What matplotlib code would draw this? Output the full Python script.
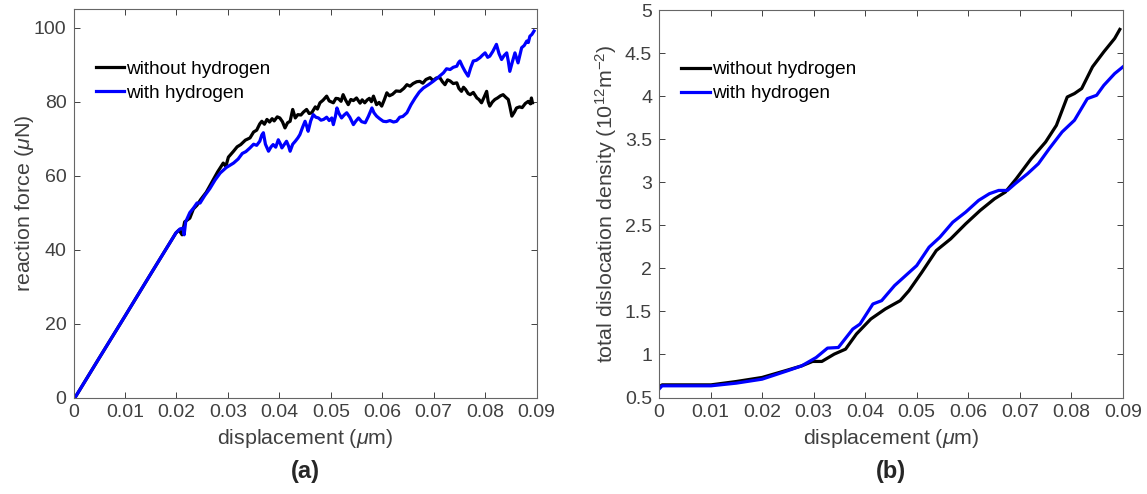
import matplotlib
matplotlib.use('Agg')
import matplotlib.pyplot as plt

plt.rcParams['font.family'] = ['Liberation Sans', 'DejaVu Sans']
plt.rcParams['mathtext.fontset'] = 'custom'
plt.rcParams['mathtext.rm'] = 'Liberation Sans'
plt.rcParams['mathtext.it'] = 'Liberation Sans:italic'

# (a) reaction force, without hydrogen
force_x_noH = [0.0003, 0.0050, 0.0100, 0.0150, 0.0199, 0.0205, 0.0211, 0.0216, 0.0226, 0.0233,
               0.0240, 0.0247, 0.0258, 0.0270, 0.0280, 0.0291, 0.0296, 0.0301, 0.0311, 0.0318,
               0.0325, 0.0334, 0.0343, 0.0350, 0.0356, 0.0362, 0.0366, 0.0371, 0.0376, 0.0381,
               0.0386, 0.0390, 0.0396, 0.0401, 0.0406, 0.0411, 0.0416, 0.0421, 0.0426, 0.0431,
               0.0436, 0.0442, 0.0447, 0.0453, 0.0458, 0.0463, 0.0470, 0.0474, 0.0479, 0.0485,
               0.0492, 0.0497, 0.0505, 0.0510, 0.0515, 0.0520, 0.0524, 0.0529, 0.0534, 0.0539,
               0.0544, 0.0550, 0.0557, 0.0561, 0.0566, 0.0571, 0.0575, 0.0579, 0.0583, 0.0589,
               0.0594, 0.0599, 0.0604, 0.0609, 0.0614, 0.0620, 0.0627, 0.0635, 0.0642, 0.0648,
               0.0654, 0.0660, 0.0667, 0.0673, 0.0679, 0.0685, 0.0693, 0.0699, 0.0705, 0.0712,
               0.0717, 0.0722, 0.0727, 0.0732, 0.0738, 0.0745, 0.0749, 0.0754, 0.0758, 0.0762,
               0.0767, 0.0771, 0.0777, 0.0784, 0.0788, 0.0793, 0.0798, 0.0803, 0.0806, 0.0809,
               0.0814, 0.0819, 0.0824, 0.0830, 0.0835, 0.0840, 0.0845, 0.0848, 0.0852, 0.0857,
               0.0861, 0.0867, 0.0872, 0.0878, 0.0884, 0.0888, 0.0890, 0.0892]
force_y_noH = [0.0, 10.7, 22.0, 33.4, 44.5, 45.3, 44.0, 47.5, 48.5, 51.0,
               52.0, 53.5, 55.5, 58.5, 61.0, 63.4, 62.5, 65.0, 66.6, 67.8,
               68.4, 69.6, 70.2, 71.8, 72.3, 74.0, 74.7, 73.9, 75.2, 74.5,
               75.4, 74.8, 75.9, 75.6, 74.6, 72.9, 74.3, 74.7, 77.9, 75.6,
               76.5, 76.4, 77.2, 77.9, 76.8, 77.0, 78.6, 78.0, 79.7, 80.4,
               81.5, 80.2, 79.7, 80.9, 80.8, 80.1, 81.9, 80.4, 79.2, 80.6,
               80.3, 81.0, 79.6, 80.5, 79.7, 80.5, 80.9, 80.0, 81.5, 79.2,
               79.8, 78.8, 80.5, 82.4, 81.6, 82.0, 82.9, 82.8, 83.6, 84.6,
               84.2, 84.9, 85.4, 85.5, 85.0, 86.0, 86.5, 85.7, 86.4, 86.5,
               85.4, 84.6, 85.9, 85.6, 84.9, 85.1, 83.6, 82.8, 83.9, 83.3,
               82.2, 81.9, 82.5, 81.0, 80.6, 79.7, 81.2, 82.8, 80.0, 78.8,
               79.9, 80.6, 81.0, 81.6, 81.9, 81.2, 80.6, 78.8, 76.1, 77.2,
               78.3, 78.6, 78.4, 79.5, 80.1, 79.4, 81.0, 79.7]

# (a) reaction force, with hydrogen
force_x_H = [0.0003, 0.0050, 0.0100, 0.0150, 0.0199, 0.0207, 0.0213, 0.0215, 0.0218, 0.0226,
             0.0233, 0.0240, 0.0246, 0.0255, 0.0265, 0.0275, 0.0285, 0.0297, 0.0311, 0.0320,
             0.0328, 0.0335, 0.0343, 0.0350, 0.0356, 0.0362, 0.0366, 0.0369, 0.0373, 0.0379,
             0.0384, 0.0388, 0.0393, 0.0398, 0.0402, 0.0405, 0.0410, 0.0414, 0.0418, 0.0421,
             0.0426, 0.0431, 0.0436, 0.0440, 0.0445, 0.0450, 0.0453, 0.0456, 0.0461, 0.0466,
             0.0471, 0.0476, 0.0481, 0.0486, 0.0492, 0.0497, 0.0502, 0.0505, 0.0509, 0.0512,
             0.0516, 0.0521, 0.0526, 0.0531, 0.0537, 0.0544, 0.0549, 0.0554, 0.0560, 0.0567,
             0.0573, 0.0580, 0.0584, 0.0589, 0.0595, 0.0602, 0.0608, 0.0615, 0.0622, 0.0628,
             0.0634, 0.0640, 0.0648, 0.0656, 0.0664, 0.0672, 0.0680, 0.0690, 0.0699, 0.0708,
             0.0719, 0.0725, 0.0732, 0.0738, 0.0745, 0.0748, 0.0751, 0.0756, 0.0761, 0.0767,
             0.0772, 0.0777, 0.0783, 0.0790, 0.0795, 0.0800, 0.0805, 0.0809, 0.0815, 0.0822,
             0.0827, 0.0832, 0.0837, 0.0842, 0.0845, 0.0848, 0.0853, 0.0858, 0.0861, 0.0864,
             0.0868, 0.0871, 0.0876, 0.0881, 0.0884, 0.0887, 0.0891, 0.0895]
force_y_H = [0.0, 10.7, 22.0, 33.4, 44.5, 45.6, 45.8, 44.0, 47.5, 50.0,
             51.2, 52.6, 52.6, 54.6, 56.5, 58.8, 60.7, 62.2, 63.4, 64.5,
             66.0, 66.5, 67.5, 68.5, 68.2, 69.3, 71.0, 71.6, 68.5, 66.6,
             67.8, 68.4, 67.7, 69.7, 68.6, 67.5, 68.5, 69.3, 68.0, 66.6,
             68.5, 69.3, 70.2, 71.1, 73.0, 74.7, 73.5, 72.0, 74.8, 76.5,
             75.8, 75.6, 75.0, 75.2, 75.8, 74.9, 75.6, 73.8, 76.0, 78.3,
             76.8, 75.6, 76.4, 77.0, 75.8, 73.8, 74.8, 75.6, 74.6, 74.3,
             76.0, 78.3, 77.0, 76.1, 75.4, 74.7, 74.6, 74.9, 74.5, 74.7,
             75.8, 76.0, 77.0, 79.2, 81.0, 82.6, 83.7, 84.6, 85.5, 86.5,
             87.8, 88.9, 88.7, 89.3, 89.6, 90.5, 91.0, 89.5, 88.2, 86.9,
             89.2, 91.0, 91.2, 91.9, 92.6, 93.2, 92.0, 92.3, 93.6, 95.5,
             93.0, 91.4, 92.5, 93.2, 91.0, 88.2, 90.8, 93.2, 91.8, 90.5,
             92.8, 94.6, 95.2, 96.4, 96.0, 97.7, 98.2, 99.1]

# (b) total dislocation density
dens_x_noH = [0.0, 0.0006, 0.0050, 0.0101, 0.0150, 0.0200, 0.0249, 0.0277, 0.0298, 0.0316,
              0.0340, 0.0362, 0.0383, 0.0411, 0.0439, 0.0468, 0.0485, 0.0510, 0.0538, 0.0566,
              0.0595, 0.0623, 0.0651, 0.0672, 0.0693, 0.0722, 0.0750, 0.0771, 0.0792, 0.0806,
              0.0820, 0.0841, 0.0863, 0.0884, 0.0894]
dens_y_noH = [0.616, 0.647, 0.647, 0.647, 0.686, 0.733, 0.818, 0.868, 0.919, 0.919,
              1.004, 1.062, 1.237, 1.412, 1.528, 1.625, 1.741, 1.955, 2.207, 2.343,
              2.517, 2.672, 2.808, 2.886, 3.040, 3.273, 3.467, 3.661, 3.990, 4.030,
              4.088, 4.340, 4.515, 4.670, 4.775]

dens_x_H = [0.0, 0.0006, 0.0050, 0.0101, 0.0150, 0.0200, 0.0249, 0.0277, 0.0305, 0.0327,
            0.0348, 0.0376, 0.0390, 0.0415, 0.0432, 0.0457, 0.0482, 0.0500, 0.0524, 0.0545,
            0.0570, 0.0595, 0.0620, 0.0641, 0.0659, 0.0676, 0.0691, 0.0715, 0.0736, 0.0757,
            0.0782, 0.0806, 0.0831, 0.0849, 0.0863, 0.0884, 0.0900]
dens_y_H = [0.597, 0.636, 0.636, 0.636, 0.667, 0.713, 0.810, 0.868, 0.965, 1.074,
            1.081, 1.295, 1.353, 1.586, 1.625, 1.800, 1.935, 2.032, 2.246, 2.362,
            2.536, 2.653, 2.789, 2.867, 2.905, 2.905, 2.983, 3.099, 3.215, 3.389,
            3.584, 3.720, 3.971, 4.010, 4.126, 4.262, 4.340]

x_ticks = [0, 0.01, 0.02, 0.03, 0.04, 0.05, 0.06, 0.07, 0.08, 0.09]
x_tick_labels = ['0', '0.01', '0.02', '0.03', '0.04', '0.05', '0.06', '0.07', '0.08', '0.09']
force_ticks = [0, 20, 40, 60, 80, 100]
dens_ticks = [0.5, 1, 1.5, 2, 2.5, 3, 3.5, 4, 4.5, 5]
dens_tick_labels = ['0.5', '1', '1.5', '2', '2.5', '3', '3.5', '4', '4.5', '5']

grey = '#404040'
blue = '#0000ff'

fig = plt.figure(figsize=(11.47, 4.94), dpi=100)
ax1 = fig.add_axes([0.0641, 0.1953, 0.4037, 0.786])
ax2 = fig.add_axes([0.5745, 0.1953, 0.4045, 0.7844])


def style(ax):
    ax.tick_params(direction='in', top=True, right=True, length=4, width=0.7,
                   colors=grey, labelsize=14, pad=5)
    for s in ax.spines.values():
        s.set_color('#666666')
        s.set_linewidth(0.8)
    ax.set_xlim(0, 0.09)
    ax.set_xticks(x_ticks)
    ax.set_xticklabels(x_tick_labels)
    ax.set_xlabel('displacement ($\\mu$m)', fontsize=15.4, color=grey, labelpad=4)


ax1.plot(force_x_noH, force_y_noH, color='black', lw=2.3, label='without hydrogen')
ax1.plot(force_x_H, force_y_H, color=blue, lw=2.3, label='with hydrogen')
style(ax1)
ax1.set_ylim(0, 105)
ax1.set_yticks(force_ticks)
ax1.set_ylabel('reaction force ($\\mu$N)', fontsize=15.4, color=grey)
ax1.yaxis.set_label_coords(-0.082, 0.5)

ax2.plot(dens_x_noH, dens_y_noH, color='black', lw=2.3, label='without hydrogen')
ax2.plot(dens_x_H, dens_y_H, color=blue, lw=2.3, label='with hydrogen')
style(ax2)
ax2.set_ylim(0.5, 5)
ax2.set_yticks(dens_ticks)
ax2.set_yticklabels(dens_tick_labels)
ax2.set_ylabel('total dislocation density (10$^{12}$m$^{-2}$)', fontsize=15.4, color=grey)
ax2.yaxis.set_label_coords(-0.086, 0.5)

for ax in (ax1, ax2):
    ax.legend(loc='upper left', bbox_to_anchor=(0.048, 0.868), frameon=False,
              fontsize=13.7, handlelength=1.5, handletextpad=0.1, labelspacing=0.35,
              borderpad=0, borderaxespad=0)

fig.text(0.266, 0.032, '(a)', fontsize=17, fontweight='bold', color='#262626', ha='center')
fig.text(0.777, 0.032, '(b)', fontsize=17, fontweight='bold', color='#262626', ha='center')

fig.savefig('out.png', dpi=100)
